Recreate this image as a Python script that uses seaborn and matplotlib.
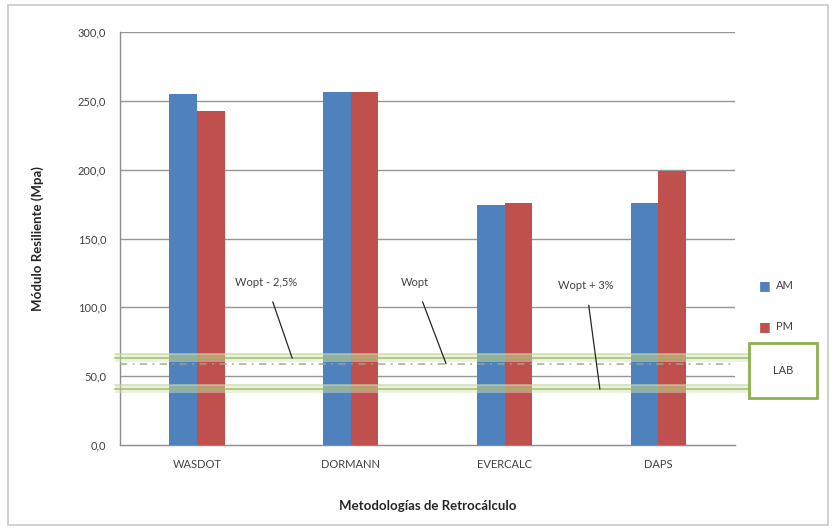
import numpy as np
import pandas as pd
import matplotlib.pyplot as plt
import seaborn as sns
from matplotlib.patches import Rectangle

methods = ["WASDOT", "DORMANN", "EVERCALC", "DAPS"]
am_values = [255.0, 256.5, 174.5, 176.0]
pm_values = [242.5, 256.5, 176.0, 199.0]
y_ticks = [0, 50, 100, 150, 200, 250, 300]
lab_upper = 63.0   # Wopt - 2,5%
lab_wopt = 59.0    # Wopt
lab_lower = 40.5   # Wopt + 3%

df = pd.DataFrame({
    "method": methods * 2,
    "value": am_values + pm_values,
    "serie": ["AM"] * len(methods) + ["PM"] * len(methods),
})

sns.set_theme(style="white")
plt.rcParams["font.family"] = ["Lato", "DejaVu Sans"]

fig = plt.figure(figsize=(8.36, 5.29), dpi=100)
ax = fig.add_axes([0.1435, 0.159, 0.736, 0.78])

# outer frame of the chart area
fig.patches.append(Rectangle((0.010, 0.008), 0.980, 0.983, transform=fig.transFigure,
                             fill=False, edgecolor="#c8c8c8", linewidth=1.2))

sns.barplot(data=df, x="method", y="value", hue="serie", order=methods,
            palette={"AM": "#4f81bd", "PM": "#c0504d"}, width=0.36, gap=0,
            saturation=1, linewidth=0, ax=ax, legend=False, zorder=3)

ax.set_ylim(0, 300)
ax.set_xlim(-0.5, 3.5)
ax.set_yticks(y_ticks)
ax.set_yticklabels([f"{t:.1f}".replace(".", ",") for t in y_ticks], fontsize=8, color="#404040")
ax.set_xticklabels(methods, fontsize=8, color="#404040")
for t in y_ticks[1:]:
    ax.axhline(t, color="#969696", linewidth=1, zorder=1)

for s in ["top", "right"]:
    ax.spines[s].set_visible(False)
for s in ["left", "bottom"]:
    ax.spines[s].set_color("#8c8c8c")
    ax.spines[s].set_linewidth(1)

ax.tick_params(axis="y", which="major", length=4, width=1, color="#8c8c8c", direction="out", pad=6)
ax.tick_params(axis="x", which="major", length=0, pad=10)
ax.set_xticks(np.arange(-0.5, 4.0, 1.0), minor=True)
ax.tick_params(axis="x", which="minor", length=4, width=1, color="#8c8c8c", direction="out")

ax.set_ylabel("Módulo Resiliente (Mpa)", fontsize=9.5, fontweight="bold", color="#262626", labelpad=24)
ax.set_xlabel("Metodologías de Retrocálculo", fontsize=9.5, fontweight="bold", color="#262626", labelpad=22)

# laboratory bands, drawn past the axis up to the LAB box
bx0, bx1 = -0.53, 3.59
for yv in [lab_upper, lab_lower]:
    ax.fill_between([bx0, bx1], yv - 3.0, yv + 3.0, color="#d7e4bd", alpha=0.45,
                    zorder=4, clip_on=False, linewidth=0)
    ax.plot([bx0, bx1], [yv + 3.0, yv + 3.0], color="#c3d69b", linewidth=1.2, alpha=0.7,
            zorder=4, clip_on=False)
    ax.plot([bx0, bx1], [yv, yv], color="#9bbb59", linewidth=1.5, alpha=0.7, zorder=4, clip_on=False)
ax.plot([-0.5, 3.5], [lab_wopt, lab_wopt], color="#9aaa86", linewidth=1.3, alpha=0.8,
        linestyle=(0, (4, 3, 1, 3)), zorder=4)

# LAB box
ax.add_patch(Rectangle((3.59, 34), 0.44, 40, transform=ax.transData, facecolor="white",
                       edgecolor="#8db04f", linewidth=2, clip_on=False, zorder=5))
ax.text(3.81, 54, "LAB", ha="center", va="center", fontsize=8, color="#404040", zorder=6)

# callouts
notes = [
    ("Wopt - 2,5%", 0.45, 118, 0.62, lab_upper),
    ("Wopt", 1.42, 118, 1.62, lab_wopt),
    ("Wopt + 3%", 2.53, 116, 2.62, lab_lower),
]
for label, tx, ty, px, py in notes:
    ax.annotate(label, xy=(px, py), xytext=(tx, ty), fontsize=8, color="#404040",
                ha="center", va="center", zorder=6,
                arrowprops=dict(arrowstyle="-", color="#262626", linewidth=0.9,
                                shrinkA=8, shrinkB=0))

# legend
for i, (name, col) in enumerate([("AM", "#4f81bd"), ("PM", "#c0504d")]):
    fig.text(0.915, 0.461 - i * 0.078, "\u25a0", color=col, fontsize=9, ha="center", va="center",
             family=["DejaVu Sans"])
    fig.text(0.928, 0.461 - i * 0.078, name, color="#404040", fontsize=8, ha="left", va="center")

fig.savefig("out.png", dpi=100, facecolor="white")
